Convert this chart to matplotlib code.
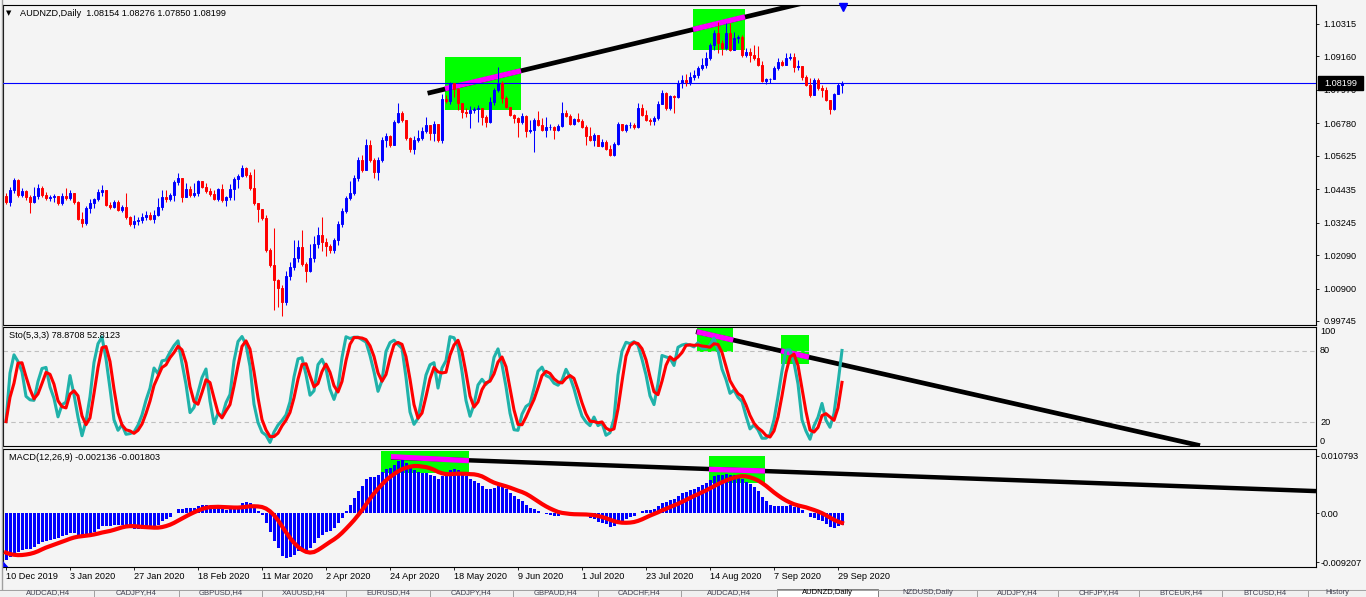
import matplotlib
matplotlib.use("Agg")
import matplotlib.pyplot as plt
from matplotlib.patches import Rectangle, Polygon
from matplotlib.lines import Line2D
import matplotlib.transforms as mtransforms
import numpy as np
import pandas as pd

# ---------------- data ----------------
first_open = 1.0421

close = [
    1.0399, 1.0441, 1.0476, 1.0423, 1.0438, 1.0415, 1.0399, 1.0420, 1.0447, 1.0423,
    1.0411, 1.0414, 1.0420, 1.0394, 1.0420, 1.0412, 1.0429, 1.0399, 1.0337, 1.0322,
    1.0375, 1.0394, 1.0409, 1.0433, 1.0441, 1.0387, 1.0379, 1.0399, 1.0369, 1.0379,
    1.0343, 1.0319, 1.0330, 1.0335, 1.0345, 1.0352, 1.0336, 1.0352, 1.0379, 1.0417,
    1.0408, 1.0423, 1.0470, 1.0482, 1.0417, 1.0443, 1.0423, 1.0431, 1.0473, 1.0452,
    1.0438, 1.0426, 1.0409, 1.0443, 1.0405, 1.0415, 1.0443, 1.0479, 1.0489, 1.0518,
    1.0494, 1.0447, 1.0394, 1.0372, 1.0340, 1.0227, 1.0174, 1.0120, 1.0091, 1.0043,
    1.0133, 1.0166, 1.0198, 1.0238, 1.0179, 1.0153, 1.0198, 1.0247, 1.0282, 1.0257,
    1.0242, 1.0227, 1.0263, 1.0321, 1.0366, 1.0412, 1.0431, 1.0483, 1.0547, 1.0512,
    1.0601, 1.0547, 1.0505, 1.0547, 1.0619, 1.0633, 1.0601, 1.0683, 1.0713, 1.0690,
    1.0626, 1.0587, 1.0619, 1.0626, 1.0651, 1.0671, 1.0645, 1.0677, 1.0619, 1.0764,
    1.0757, 1.0823, 1.0799, 1.0749, 1.0719, 1.0716, 1.0725, 1.0729, 1.0731, 1.0699,
    1.0684, 1.0755, 1.0797, 1.0820, 1.0767, 1.0737, 1.0708, 1.0696, 1.0684, 1.0704,
    1.0652, 1.0654, 1.0690, 1.0672, 1.0654, 1.0664, 1.0665, 1.0654, 1.0668, 1.0716,
    1.0704, 1.0676, 1.0692, 1.0686, 1.0664, 1.0632, 1.0619, 1.0636, 1.0599, 1.0611,
    1.0587, 1.0567, 1.0606, 1.0677, 1.0654, 1.0671, 1.0673, 1.0665, 1.0731, 1.0709,
    1.0690, 1.0685, 1.0697, 1.0748, 1.0787, 1.0731, 1.0774, 1.0770, 1.0822, 1.0832,
    1.0825, 1.0843, 1.0850, 1.0875, 1.0886, 1.0911, 1.0957, 1.0999, 1.0964, 1.0946,
    1.0999, 1.0939, 1.0982, 1.0985, 1.0921, 1.0933, 1.0921, 1.0911, 1.0886, 1.0829,
    1.0835, 1.0836, 1.0874, 1.0897, 1.0886, 1.0909, 1.0915, 1.0880, 1.0882, 1.0844,
    1.0814, 1.0779, 1.0832, 1.0803, 1.0797, 1.0761, 1.0729, 1.0783, 1.08154, 1.08199,
]

high = [
    1.0430, 1.0451, 1.0483, 1.0480, 1.0448, 1.0440, 1.0423, 1.0451, 1.0462, 1.0455,
    1.0434, 1.0423, 1.0427, 1.0420, 1.0430, 1.0448, 1.0441, 1.0430, 1.0402, 1.0362,
    1.0384, 1.0409, 1.0412, 1.0444, 1.0459, 1.0441, 1.0398, 1.0405, 1.0405, 1.0387,
    1.0429, 1.0348, 1.0352, 1.0344, 1.0359, 1.0366, 1.0362, 1.0369, 1.0412, 1.0441,
    1.0441, 1.0430, 1.0476, 1.0502, 1.0483, 1.0466, 1.0455, 1.0466, 1.0476, 1.0473,
    1.0466, 1.0448, 1.0441, 1.0448, 1.0462, 1.0420, 1.0462, 1.0487, 1.0498, 1.0530,
    1.0524, 1.0505, 1.0515, 1.0394, 1.0373, 1.0352, 1.0234, 1.0305, 1.0124, 1.0103,
    1.0152, 1.0184, 1.0263, 1.0263, 1.0298, 1.0184, 1.0250, 1.0277, 1.0309, 1.0344,
    1.0270, 1.0248, 1.0270, 1.0330, 1.0377, 1.0420, 1.0473, 1.0494, 1.0558, 1.0565,
    1.0622, 1.0619, 1.0555, 1.0558, 1.0629, 1.0644, 1.0636, 1.0690, 1.0750, 1.0722,
    1.0690, 1.0629, 1.0633, 1.0654, 1.0665, 1.0699, 1.0672, 1.0686, 1.0676, 1.0782,
    1.0779, 1.0826, 1.0820, 1.0804, 1.0750, 1.0732, 1.0740, 1.0736, 1.0743, 1.0732,
    1.0708, 1.0773, 1.0804, 1.0880, 1.0829, 1.0775, 1.0736, 1.0711, 1.0700, 1.0715,
    1.0708, 1.0690, 1.0697, 1.0723, 1.0696, 1.0702, 1.0676, 1.0668, 1.0676, 1.0755,
    1.0725, 1.0711, 1.0697, 1.0716, 1.0693, 1.0672, 1.0664, 1.0644, 1.0633, 1.0622,
    1.0619, 1.0601, 1.0612, 1.0683, 1.0676, 1.0676, 1.0683, 1.0679, 1.0750, 1.0748,
    1.0725, 1.0697, 1.0704, 1.0757, 1.0797, 1.0788, 1.0779, 1.0779, 1.0832, 1.0850,
    1.0854, 1.0861, 1.0868, 1.0882, 1.0911, 1.0932, 1.0964, 1.1010, 1.1039, 1.0975,
    1.1035, 1.1035, 1.1003, 1.0992, 1.0992, 1.0946, 1.0945, 1.0957, 1.0954, 1.0900,
    1.0839, 1.0839, 1.0882, 1.0911, 1.0903, 1.0927, 1.0928, 1.0928, 1.0903, 1.0882,
    1.0850, 1.0839, 1.0839, 1.0839, 1.0814, 1.0807, 1.0757, 1.0786, 1.0821, 1.08276,
]

low = [
    1.0391, 1.0384, 1.0430, 1.0416, 1.0416, 1.0405, 1.0359, 1.0394, 1.0409, 1.0416,
    1.0405, 1.0402, 1.0398, 1.0387, 1.0387, 1.0405, 1.0405, 1.0391, 1.0334, 1.0310,
    1.0316, 1.0359, 1.0377, 1.0402, 1.0419, 1.0384, 1.0373, 1.0377, 1.0366, 1.0362,
    1.0337, 1.0312, 1.0304, 1.0316, 1.0323, 1.0334, 1.0334, 1.0323, 1.0348, 1.0369,
    1.0398, 1.0402, 1.0402, 1.0459, 1.0399, 1.0420, 1.0416, 1.0416, 1.0420, 1.0448,
    1.0430, 1.0420, 1.0405, 1.0402, 1.0398, 1.0384, 1.0405, 1.0405, 1.0448, 1.0487,
    1.0487, 1.0441, 1.0387, 1.0328, 1.0334, 1.0220, 1.0168, 1.0013, 1.0025, 0.9992,
    1.0031, 1.0120, 1.0156, 1.0184, 1.0170, 1.0114, 1.0149, 1.0184, 1.0234, 1.0224,
    1.0206, 1.0216, 1.0218, 1.0245, 1.0309, 1.0359, 1.0405, 1.0423, 1.0473, 1.0505,
    1.0519, 1.0540, 1.0483, 1.0476, 1.0540, 1.0594, 1.0594, 1.0601, 1.0679, 1.0683,
    1.0619, 1.0576, 1.0569, 1.0612, 1.0619, 1.0644, 1.0619, 1.0615, 1.0612, 1.0608,
    1.0749, 1.0747, 1.0773, 1.0725, 1.0697, 1.0700, 1.0661, 1.0715, 1.0684, 1.0672,
    1.0665, 1.0680, 1.0743, 1.0789, 1.0749, 1.0732, 1.0704, 1.0678, 1.0630, 1.0676,
    1.0630, 1.0644, 1.0577, 1.0668, 1.0651, 1.0630, 1.0654, 1.0621, 1.0651, 1.0665,
    1.0700, 1.0672, 1.0672, 1.0683, 1.0661, 1.0602, 1.0615, 1.0599, 1.0597, 1.0594,
    1.0583, 1.0561, 1.0562, 1.0601, 1.0651, 1.0647, 1.0661, 1.0658, 1.0661, 1.0704,
    1.0686, 1.0671, 1.0671, 1.0690, 1.0747, 1.0725, 1.0725, 1.0713, 1.0768, 1.0804,
    1.0811, 1.0814, 1.0832, 1.0839, 1.0868, 1.0875, 1.0903, 1.0939, 1.0928, 1.0921,
    1.0939, 1.0935, 1.0950, 1.0964, 1.0914, 1.0914, 1.0897, 1.0903, 1.0882, 1.0825,
    1.0818, 1.0820, 1.0836, 1.0868, 1.0882, 1.0889, 1.0903, 1.0862, 1.0868, 1.0832,
    1.0811, 1.0773, 1.0779, 1.0797, 1.0773, 1.0757, 1.0712, 1.0726, 1.0782, 1.07850,
]

date_bars = [0, 16, 32, 48, 64, 80, 96, 112, 128, 144, 160, 176, 192, 208]
date_labels = ["10 Dec 2019", "3 Jan 2020", "27 Jan 2020", "18 Feb 2020", "11 Mar 2020",
               "2 Apr 2020", "24 Apr 2020", "18 May 2020", "9 Jun 2020", "1 Jul 2020",
               "23 Jul 2020", "14 Aug 2020", "7 Sep 2020", "29 Sep 2020"]

price_ticks = [1.10315, 1.09160, 1.07970, 1.06780, 1.05625, 1.04435,
               1.03245, 1.02090, 1.00900, 0.99745]
last_price = 1.08199

stoch_ticks = [0, 20, 80, 100]
stoch_levels = [20, 80]
macd_ticks = [-0.009207, 0.0, 0.010793]
macd_tick_labels = ["-0.009207", "0.00", "0.010793"]

# state of the indicators before the first visible bar
ema_fast_seed = 1.0478
ema_slow_seed = 1.0565
macd_before = [-0.0058, -0.0063, -0.0067, -0.0071, -0.0075, -0.0078, -0.0081, -0.0083]

header_main = "AUDNZD,Daily  1.08154 1.08276 1.07850 1.08199"
header_sto = "Sto(5,3,3) 78.8708 52.8123"
header_macd = "MACD(12,26,9) -0.002136 -0.001803"

# drawn objects: (bar index, value)
price_trend = [(105.4, 1.0785), (199.0, 1.1105)]
price_boxes = [(109.75, 128.75, 1.0725, 1.0914), (171.75, 184.75, 1.0939, 1.1085)]
price_marks = [[(109.75, 1.0801), (128.75, 1.0865)], [(171.75, 1.1012), (184.75, 1.1057)]]

stoch_trend = [(172.5, 96.1), (298.5, 0.3)]
stoch_boxes = [(172.7, 181.8, 78.7, 101.0), (193.75, 200.75, 68.5, 93.1)]
stoch_marks = [[(172.7, 96.0), (181.8, 89.0)], [(193.75, 80.0), (200.75, 74.6)]]

macd_trend = [(96.25, 0.01046), (327.5, 0.00416)]
macd_boxes = [(93.75, 115.75, 0.00761, 0.01167), (175.75, 189.75, 0.00573, 0.01074)]
macd_marks = [[(96.25, 0.01061), (115.75, 0.00986)], [(175.75, 0.00824), (189.75, 0.00793)]]

arrow_bar, arrow_price = 209.3, 1.1093

tab_names = ["AUDCAD,H4", "CADJPY,H4", "GBPUSD,H4", "XAUUSD,H4", "EURUSD,H4", "CADJPY,H4",
             "GBPAUD,H4", "CADCHF,H4", "AUDCAD,H4", "AUDNZD,Daily", "NZDUSD,Daily",
             "AUDJPY,H4", "CHFJPY,H4", "BTCEUR,H4", "BTCUSD,H4", "History"]
active_tab = 9

# ---------------- indicators ----------------
c = np.array(close)
h = np.array(high)
l = np.array(low)
assert len(c) == len(h) == len(l) == 210
n = len(c)
idx = np.arange(n)
o = np.r_[first_open, c[:-1]]
hi = np.maximum.reduce([h, o, c])
lo = np.minimum.reduce([l, o, c])


def ema(values, seed, period):
    a = 2.0 / (period + 1)
    out, e = [], seed
    for v in values:
        e = e + a * (v - e)
        out.append(e)
    return np.array(out)


macd = ema(c, ema_fast_seed, 12) - ema(c, ema_slow_seed, 26)
macd_signal = pd.Series(np.r_[macd_before, macd]).rolling(9).mean().values[len(macd_before):]

cs, hs, ls = pd.Series(c), pd.Series(hi), pd.Series(lo)
ll5 = ls.rolling(5, min_periods=1).min()
hh5 = hs.rolling(5, min_periods=1).max()
sto_k = 100 * (cs - ll5).rolling(3, min_periods=1).sum() / (hh5 - ll5).rolling(3, min_periods=1).sum()
sto_d = sto_k.rolling(3, min_periods=1).mean()

# ---------------- figure ----------------
W, H = 1366, 597
BG = "#F4F4F4"
plt.rcParams["font.family"] = ["Liberation Sans", "DejaVu Sans"]
plt.rcParams["font.size"] = 6.6

fig = plt.figure(figsize=(W / 100, H / 100), dpi=100, facecolor=BG)


def fy(y):
    return 1 - y / H


def panel(top, bottom):
    ax = fig.add_axes([3 / W, fy(bottom), 1313 / W, (bottom - top) / H])
    ax.set_facecolor(BG)
    ax.set_xlim(-0.75, 327.5)
    for s in ax.spines.values():
        s.set_color("black")
        s.set_linewidth(0.8)
    ax.yaxis.tick_right()
    ax.tick_params(axis="x", bottom=False, labelbottom=False)
    return ax


ax1 = panel(5, 325)
ax2 = panel(327, 446)
ax3 = panel(449, 567)

# --- price panel
ax1.set_ylim(0.99602, 1.10991)
for x0, x1, y0, y1 in price_boxes:
    ax1.add_patch(Rectangle((x0, y0), x1 - x0, y1 - y0, fc="#00FF00", ec="none", zorder=1))
(tx0, ty0), (tx1, ty1) = price_trend
ax1.plot([tx0, tx1], [ty0, ty1], color="black", lw=3.4, solid_capstyle="butt", zorder=2)
for seg in price_marks:
    ax1.plot([p[0] for p in seg], [p[1] for p in seg], color="#FF00FF", lw=3.8,
             solid_capstyle="butt", zorder=3)
ax1.axhline(last_price, color="#0000FF", lw=0.8, zorder=3.5)
col = np.where(c >= o, "#0000FF", "#FF0000")
ax1.vlines(idx, lo, hi, colors=col, lw=0.75, zorder=4)
ax1.bar(idx, np.abs(c - o), bottom=np.minimum(o, c), width=0.5, color=col,
        edgecolor=col, lw=0.7, zorder=5)
ax1.plot([arrow_bar], [arrow_price], marker="v", ms=6, color="#0000FF", zorder=6, clip_on=False)

ax1.set_yticks(price_ticks)
ax1.set_yticklabels([f"{v:.5f}" for v in price_ticks])
ax1.tick_params(axis="y", length=2.2, width=0.6, pad=3)

# price label box on the axis
lab_tr = mtransforms.blended_transform_factory(ax1.transAxes, ax1.transData)
box_half = 7 * (1.10991 - 0.99602) / 320
ax1.add_patch(Rectangle((1.0015, last_price - box_half), 0.0345, 2 * box_half,
                        transform=lab_tr, fc="black", ec="black", clip_on=False, zorder=9))
ax1.text(1.0185, last_price, f"{last_price:.5f}", transform=lab_tr, color="white",
         va="center", ha="center", fontsize=6.6, clip_on=False, zorder=10)

# --- stochastic panel
ax2.set_ylim(0, 100)
for x0, x1, y0, y1 in stoch_boxes:
    ax2.add_patch(Rectangle((x0, y0), x1 - x0, y1 - y0, fc="#00FF00", ec="none", zorder=1))
for lv in stoch_levels:
    ax2.axhline(lv, color="#C0C0C0", lw=0.8, ls=(0, (4, 3)), zorder=1.5)
(sx0, sy0), (sx1, sy1) = stoch_trend
ax2.plot([sx0, sx1], [sy0, sy1], color="black", lw=3.4, solid_capstyle="butt", zorder=2)
for seg in stoch_marks:
    ax2.plot([p[0] for p in seg], [p[1] for p in seg], color="#FF00FF", lw=3.8,
             solid_capstyle="butt", zorder=3)
ax2.plot(idx, sto_k, color="#20B2AA", lw=2.2, zorder=4)
ax2.plot(idx, sto_d, color="#FF0000", lw=2.2, zorder=5)
ax2.set_yticks([])
sto_tr = mtransforms.offset_copy(
    mtransforms.blended_transform_factory(ax2.transAxes, ax2.transData), fig, x=4, units="dots")
for v in stoch_ticks:
    va = "top" if v == 100 else ("bottom" if v == 0 else "center")
    ax2.text(1.0, v, str(v), transform=sto_tr, va=va, ha="left", clip_on=False)

# --- MACD panel
ax3.set_ylim(-0.010062, 0.012048)
for x0, x1, y0, y1 in macd_boxes:
    ax3.add_patch(Rectangle((x0, y0), x1 - x0, y1 - y0, fc="#00FF00", ec="none", zorder=1))
(mx0, my0), (mx1, my1) = macd_trend
ax3.plot([mx0, mx1], [my0, my1], color="black", lw=3.2, solid_capstyle="butt", zorder=2)
for seg in macd_marks:
    ax3.plot([p[0] for p in seg], [p[1] for p in seg], color="#FF00FF", lw=3.8,
             solid_capstyle="butt", zorder=3)
ax3.bar(idx, macd, width=0.75, color="#0000FF", lw=0, zorder=4)
ax3.plot(idx, macd_signal, color="#FF0000", lw=3.0, zorder=5)
ax3.set_yticks(macd_ticks)
ax3.set_yticklabels(macd_tick_labels)
ax3.tick_params(axis="y", length=2, width=0.6, pad=1.5)
ax3.tick_params(axis="x", bottom=True, labelbottom=True, length=2.2, width=0.6,
                pad=1.5, direction="out")
ax3.set_xticks(date_bars)
ax3.set_xticklabels(date_labels, ha="left")
ax3.add_patch(Polygon([(0, 0), (0.004, 0), (0, 0.05)], closed=True, transform=ax3.transAxes,
                      fc="#0000FF", ec="none", zorder=6))

# --- headers
fig.text(6 / W, fy(13), "\u25bc", fontsize=5, va="center", ha="left",
         family=["DejaVu Sans"])
fig.text(20 / W, fy(13), header_main, va="center", ha="left")
fig.text(9 / W, fy(336), header_sto, va="center", ha="left")
fig.text(9 / W, fy(457), header_macd, va="center", ha="left")

# --- window chrome: tab strip at the bottom
fig.add_artist(Rectangle((0, 0), 1, (H - 589) / H, transform=fig.transFigure,
                         fc="#F0F0F0", ec="none"))
fig.add_artist(Line2D([0, 1], [fy(589.5)] * 2, transform=fig.transFigure,
                      color="#A0A0A0", lw=0.7))
tab_edges = [3, 94, 179, 262, 346, 430, 513, 598, 681, 777, 878, 977, 1058, 1139, 1222, 1308, 1366]
for k, name in enumerate(tab_names):
    x0, x1 = tab_edges[k], tab_edges[k + 1]
    if k == active_tab:
        fig.add_artist(Rectangle((x0 / W, 0), (x1 - x0) / W, (H - 589) / H,
                                 transform=fig.transFigure, fc="white", ec="#808080", lw=0.7))
    elif k < len(tab_names) - 1:
        fig.add_artist(Line2D([x1 / W] * 2, [0, fy(591)], transform=fig.transFigure,
                              color="#A0A0A0", lw=0.7))
    fig.text((x0 + x1) / 2 / W, fy(596.5), name, va="bottom", ha="center", fontsize=5.5,
             color="black" if k == active_tab else "#404050")

fig.add_artist(Line2D([1.5 / W] * 2, [fy(589), 1], transform=fig.transFigure,
                      color="#A0A0A0", lw=1.0))

fig.savefig("out.png", dpi=100, facecolor=BG)
